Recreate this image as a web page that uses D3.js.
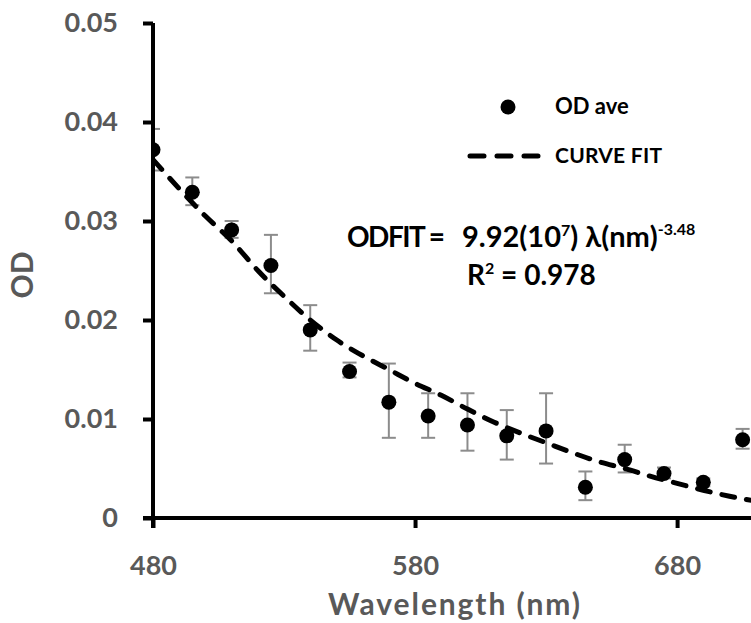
<!DOCTYPE html>
<html>
<head>
<meta charset="utf-8">
<script src="https://cdn.jsdelivr.net/npm/d3@7"></script>
<style>
  body { margin: 0; background: #fff; }
  svg { display: block; font-family: Lato, "Open Sans", sans-serif; font-weight: bold; }
</style>
</head>
<body>
<div class="chart"></div>
<script>
var wavelength = [480, 495, 510, 525, 540, 555, 570, 585, 600, 615, 630, 645, 660, 675, 690, 705];
var odAve      = [0.0372, 0.0329, 0.0291, 0.0255, 0.0190, 0.0148, 0.0117, 0.0103, 0.0094, 0.0083, 0.0088, 0.0031, 0.0059, 0.0045, 0.0036, 0.0079];
var errHigh    = [0.0393, 0.0344, 0.0300, 0.0286, 0.0215, 0.0157, 0.0156, 0.0126, 0.0126, 0.0109, 0.0126, 0.0047, 0.0074, 0.0051, 0.0040, 0.0090];
var errLow     = [0.0351, 0.0316, 0.0283, 0.0227, 0.0169, 0.0142, 0.0081, 0.0081, 0.0068, 0.0059, 0.0055, 0.0018, 0.0046, 0.0040, 0.0032, 0.0070];

// dashed curve fit
var fitWavelength = [480, 500, 510, 520, 530, 540, 550, 560, 570, 580, 590, 600, 610, 620, 630, 640, 650, 660, 670, 680, 690, 700, 710];
var fitOD         = [0.0362, 0.0305, 0.0280, 0.0250, 0.0224, 0.0200, 0.0180, 0.0164, 0.0150, 0.0136, 0.0124, 0.0110, 0.0097, 0.0086, 0.0076, 0.0066, 0.0057, 0.0050, 0.0042, 0.0035, 0.0028, 0.0022, 0.0017];

var xTicks = [480, 580, 680];
var yTicks = [0, 0.01, 0.02, 0.03, 0.04, 0.05];

var svgWidth = 751;
var svgHeight = 623;

var svg = d3.select(".chart")
  .append("svg")
  .attr("width", svgWidth)
  .attr("height", svgHeight);

var plotLeft = 153, plotRight = 751, plotTop = 23, plotBottom = 518;

// create scales
var xScale = d3.scaleLinear()
  .domain([480, 708.2])
  .range([plotLeft, plotRight]);

var yScale = d3.scaleLinear()
  .domain([0, 0.05])
  .range([plotBottom, plotTop]);

var labelColor = "#595959";

// clip for the marks (chart is cut at the right edge)
svg.append("clipPath")
  .attr("id", "plotclip")
  .append("rect")
  .attr("x", plotLeft)
  .attr("y", 0)
  .attr("width", plotRight - plotLeft)
  .attr("height", plotBottom);

var plot = svg.append("g").attr("clip-path", "url(#plotclip)");

// error bars
var errData = wavelength.map(function(w, i) {
  return { w: w, lo: errLow[i], hi: errHigh[i] };
});

plot.selectAll(".err")
  .data(errData)
  .enter()
  .append("line")
  .attr("x1", d => xScale(d.w))
  .attr("x2", d => xScale(d.w))
  .attr("y1", d => yScale(d.lo))
  .attr("y2", d => yScale(d.hi))
  .attr("stroke", "#8c8c8c")
  .attr("stroke-width", 2);

["lo", "hi"].forEach(function(k) {
  plot.selectAll(".cap-" + k)
    .data(errData)
    .enter()
    .append("line")
    .attr("x1", d => xScale(d.w) - 7)
    .attr("x2", d => xScale(d.w) + 7)
    .attr("y1", d => yScale(d[k]))
    .attr("y2", d => yScale(d[k]))
    .attr("stroke", "#8c8c8c")
    .attr("stroke-width", 2);
});

// curve fit line
var fitData = fitWavelength.map(function(w, i) { return { w: w, od: fitOD[i] }; });

var line = d3.line()
  .x(d => xScale(d.w))
  .y(d => yScale(d.od))
  .curve(d3.curveMonotoneX);

// points
var pts = wavelength.map(function(w, i) { return { w: w, od: odAve[i] }; });

plot.selectAll("circle")
  .data(pts)
  .enter()
  .append("circle")
  .attr("cx", d => xScale(d.w))
  .attr("cy", d => yScale(d.od))
  .attr("r", 7.5)
  .attr("fill", "#000");

plot.append("path")
  .datum(fitData)
  .attr("d", line)
  .attr("fill", "none")
  .attr("stroke", "#000")
  .attr("stroke-width", 5)
  .attr("stroke-linecap", "round")
  .attr("stroke-dasharray", "13,12");

// axes
var yAxis = d3.axisLeft(yScale)
  .tickValues(yTicks)
  .tickFormat(d => d === 0 ? "0" : d3.format(".2f")(d))
  .tickSize(10)
  .tickSizeOuter(0)
  .tickPadding(25);

var xAxis = d3.axisBottom(xScale)
  .tickValues(xTicks)
  .tickSize(10)
  .tickSizeOuter(0)
  .tickPadding(28);

var gx = svg.append("g")
  .attr("transform", `translate(0, ${plotBottom})`)
  .call(xAxis);

var gy = svg.append("g")
  .attr("transform", `translate(${plotLeft}, 0)`)
  .call(yAxis);

[gx, gy].forEach(function(g) {
  g.select(".domain").attr("stroke", "#000").attr("stroke-width", 4);
  g.selectAll(".tick line").attr("stroke", "#000").attr("stroke-width", 4);
  g.selectAll(".tick text")
    .attr("fill", labelColor)
    .style("font-family", "Lato, 'Open Sans', sans-serif")
    .style("font-weight", "bold")
    .style("font-size", "27px");
});
gx.select(".domain").attr("d", `M${plotLeft - 10},0H${plotRight}`);
gy.select(".domain").attr("d", `M0,${plotTop}V${plotBottom + 10}`);

// axis titles
svg.append("text")
  .attr("x", 328)
  .attr("y", 615)
  .attr("fill", labelColor)
  .attr("textLength", 252)
  .style("font-size", "30px")
  .text("Wavelength (nm)");

svg.append("text")
  .attr("transform", "translate(33, 275) rotate(-90)")
  .attr("text-anchor", "middle")
  .attr("fill", labelColor)
  .style("font-size", "30px")
  .text("OD");

// legend
var legend = svg.append("g");
legend.append("circle")
  .attr("cx", 508).attr("cy", 107).attr("r", 7.5).attr("fill", "#000");
legend.append("text")
  .attr("x", 555).attr("y", 114)
  .style("font-size", "22px")
  .text("OD ave");
legend.append("line")
  .attr("x1", 470).attr("x2", 538)
  .attr("y1", 156).attr("y2", 156)
  .attr("stroke", "#000").attr("stroke-width", 5)
  .attr("stroke-linecap", "round")
  .attr("stroke-dasharray", "14,13");
legend.append("text")
  .attr("x", 555).attr("y", 163)
  .style("font-size", "21px")
  .attr("textLength", 107)
  .text("CURVE FIT");

// equation
svg.append("text")
  .attr("x", 347).attr("y", 247)
  .style("font-size", "28px")
  .attr("textLength", 98)
  .text("ODFIT =");

var eq = svg.append("text")
  .attr("x", 462).attr("y", 247)
  .style("font-size", "29px");
eq.append("tspan").text("9.92(10");
eq.append("tspan").attr("dy", -11).style("font-size", "16px").text("7");
eq.append("tspan").attr("dy", 11).text(") \u03bb(nm)");
eq.append("tspan").attr("dy", -12).style("font-size", "16px").text("-3.48");

var r2 = svg.append("text")
  .attr("x", 467).attr("y", 285)
  .style("font-size", "28px");
r2.append("tspan").text("R");
r2.append("tspan").attr("dy", -11).style("font-size", "16px").text("2");
r2.append("tspan").attr("dy", 11).text(" = 0.978");
</script>
</body>
</html>
